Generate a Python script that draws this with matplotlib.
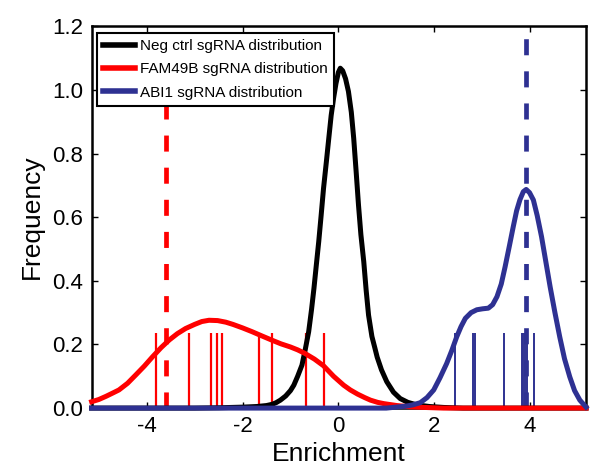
import numpy as np
import matplotlib
matplotlib.use("Agg")
import matplotlib.pyplot as plt

plt.rcParams['font.family'] = ['Liberation Sans', 'DejaVu Sans']
plt.rcParams['axes.unicode_minus'] = False

# density curves (enrichment, frequency)
neg_x = [-5.15, -3.0, -2.5, -2.0, -1.7, -1.5, -1.38, -1.3, -1.21, -1.10, -1.0,
         -0.93, -0.85, -0.76, -0.69, -0.62, -0.56, -0.51, -0.46, -0.41, -0.36,
         -0.31, -0.25, -0.20, -0.15, -0.10, -0.05, 0.0, 0.04, 0.09, 0.15, 0.21,
         0.27, 0.32, 0.37, 0.42, 0.47, 0.53, 0.58, 0.63, 0.70, 0.76, 0.81, 0.90,
         1.01, 1.15, 1.29, 1.45, 1.64, 1.9, 2.2, 2.6, 5.17]
neg_y = [0.0, 0.0, 0.001, 0.003, 0.005, 0.008, 0.012, 0.017, 0.025, 0.038, 0.055,
         0.072, 0.10, 0.135, 0.185, 0.24, 0.31, 0.376, 0.45, 0.523, 0.605,
         0.69, 0.775, 0.848, 0.92, 0.974, 1.02, 1.055, 1.068, 1.06, 1.035, 0.995,
         0.93, 0.848, 0.745, 0.638, 0.545, 0.46, 0.37, 0.292, 0.225, 0.19, 0.16, 0.12,
         0.083, 0.05, 0.03, 0.018, 0.01, 0.005, 0.002, 0.0, 0.0]

fam_x = [-5.15, -5.0, -4.85, -4.7, -4.58, -4.4, -4.23, -4.05, -3.88, -3.70, -3.53,
         -3.36, -3.19, -3.0, -2.85, -2.70, -2.52, -2.35, -2.2, -2.0, -1.80, -1.6,
         -1.38, -1.2, -1.0, -0.85, -0.70, -0.5, -0.31, -0.1, 0.11, 0.25, 0.4, 0.55,
         0.67, 0.82, 0.95, 1.22, 1.5, 1.8, 2.2, 5.17]
fam_y = [0.02, 0.027, 0.037, 0.048, 0.057, 0.078, 0.104, 0.132, 0.161, 0.19, 0.214,
         0.234, 0.25, 0.263, 0.272, 0.276, 0.275, 0.27, 0.263, 0.252, 0.24, 0.227,
         0.213, 0.202, 0.192, 0.183, 0.172, 0.154, 0.133, 0.10, 0.072, 0.057, 0.044, 0.033,
         0.025, 0.018, 0.014, 0.008, 0.004, 0.002, 0.0, 0.0]

abi_x = [-5.15, 1.0, 1.2, 1.4, 1.55, 1.71, 1.85, 1.99, 2.12, 2.26, 2.37, 2.47, 2.56,
         2.65, 2.77, 2.89, 3.01, 3.13, 3.22, 3.31, 3.40, 3.48, 3.57, 3.65, 3.72,
         3.79, 3.86, 3.92, 3.99, 4.07, 4.15, 4.24, 4.33, 4.42, 4.52, 4.62, 4.72,
         4.83, 4.93, 5.04, 5.17]
abi_y = [0.0, 0.0, 0.003, 0.006, 0.01, 0.017, 0.033, 0.057, 0.095, 0.14, 0.182, 0.224, 0.256,
         0.282, 0.300, 0.309, 0.312, 0.314, 0.325, 0.35, 0.39, 0.444, 0.51, 0.57, 0.62,
         0.655, 0.68, 0.687, 0.677, 0.654, 0.605, 0.539, 0.46, 0.381, 0.30, 0.224, 0.155,
         0.098, 0.055, 0.025, 0.003]

# individual sgRNA enrichments and the gene-level value
fam_guides = [-3.81, -3.12, -2.66, -2.54, -2.43, -1.66, -1.38, -0.68, -0.31]
abi_guides = [2.44, 2.82, 2.86, 3.46, 3.83, 3.86, 3.89, 3.93, 4.08]
fam_gene = -3.60
abi_gene = 3.91
stick_h = 0.235

red = '#ff0000'
blue = '#2e3192'

fig = plt.figure(figsize=(5.95, 4.68), dpi=100)
ax = fig.add_axes([0.154, 0.128, 0.831, 0.816])

ax.vlines(fam_guides, 0, stick_h, color=red, lw=1.6, zorder=1)
ax.vlines(abi_guides, 0, stick_h, color=blue, lw=1.4, zorder=1)
ax.plot([fam_gene, fam_gene], [0, 1.25], color=red, lw=3.4,
        ls=(0, (3.4, 3.4)), zorder=1)
ax.plot([abi_gene, abi_gene], [0, 1.25], color=blue, lw=3.4,
        ls=(0, (3.4, 3.4)), zorder=1)

ax.plot(neg_x, neg_y, color='black', lw=3.6, label='Neg ctrl sgRNA distribution',
        clip_on=False, zorder=2)
ax.plot(fam_x, fam_y, color=red, lw=3.6, label='FAM49B sgRNA distribution',
        clip_on=False, zorder=3)
ax.plot(abi_x, abi_y, color=blue, lw=3.6, label='ABI1 sgRNA distribution',
        clip_on=False, zorder=4)

ax.set_xlim(-5.15, 5.17)
ax.set_ylim(0, 1.2)
ax.set_xticks([-4, -2, 0, 2, 4])
ax.set_yticks(np.arange(0, 1.21, 0.2))
ax.set_yticklabels(['%.1f' % v for v in np.arange(0, 1.21, 0.2)])
ax.tick_params(direction='in', top=True, right=True, length=4.3, width=1,
               labelsize=16, pad=6)
for s in ax.spines.values():
    s.set_linewidth(1.8)

ax.set_xlabel('Enrichment', fontsize=19, labelpad=3)
ax.set_ylabel('Frequency', fontsize=19, labelpad=6)

leg = ax.legend(loc='upper left', bbox_to_anchor=(0.0113, 0.982), borderaxespad=0,
                fontsize=11, fancybox=False, framealpha=1, edgecolor='black',
                handlelength=2.1, handletextpad=0.3, labelspacing=0.6, borderpad=0.4)
leg.get_frame().set_linewidth(1.5)
for h in leg.get_lines():
    h.set_linewidth(4)
leg.set_zorder(10)

fig.savefig('out.png', dpi=100)
